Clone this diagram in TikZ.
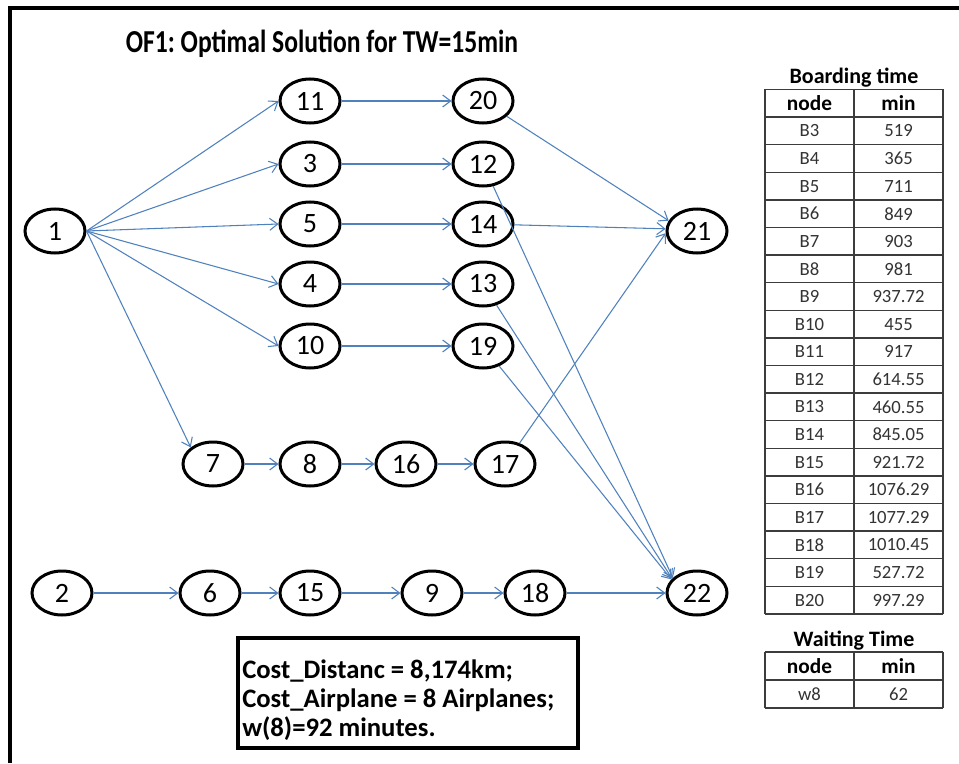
\documentclass[tikz,border=0pt]{standalone}
\usepackage{fontspec}
\setmainfont{Carlito}
\usetikzlibrary{shapes.geometric,arrows.meta}
\definecolor{edgeblue}{RGB}{79,129,189}
\definecolor{gridgray}{RGB}{60,60,60}
\frenchspacing
\begin{document}
\begin{tikzpicture}[x=0.75pt,y=-0.75pt,
  vnode/.style={ellipse,draw=black,line width=2.25pt,minimum width=45pt,minimum height=33pt,inner sep=0pt,font=\fontsize{21}{23}\selectfont},
  flow/.style={draw=edgeblue,line width=0.8pt,-{Straight Barb[length=6pt,width=9pt]}},
  cellt/.style={font=\fontsize{14}{16}\selectfont,text=black!80,inner sep=0pt},
  headt/.style={font=\bfseries\fontsize{16}{18}\selectfont,inner sep=0pt},
  ttlt/.style={font=\bfseries\fontsize{16.5}{18}\selectfont,inner sep=0pt},
  gridline/.style={draw=gridgray,line width=1pt},
  frameline/.style={draw=black,line width=3pt}
]
\useasboundingbox (0,0) rectangle (959,763);
% frame
\draw[frameline] (10,763) -- (10,8.5) -- (959,8.5);
% title
\node[font=\bfseries\fontsize{24}{28}\selectfont,inner sep=0pt,xscale=0.8] (title) at (322,44) {OF1: Optimal Solution for TW=15min};
% nodes
\node[vnode] (n1) at (55,231) {1};
\node[vnode] (n11) at (310,101) {11};
\node[vnode] (n3) at (310,164) {3};
\node[vnode] (n5) at (310,224) {5};
\node[vnode] (n4) at (310,284) {4};
\node[vnode] (n10) at (310,346) {10};
\node[vnode] (n20) at (483,101) {20};
\node[vnode] (n12) at (483,164) {12};
\node[vnode] (n14) at (483,224) {14};
\node[vnode] (n13) at (483,284) {13};
\node[vnode] (n19) at (483,346) {19};
\node[vnode] (n21) at (697,231) {21};
\node[vnode] (n7) at (213,464) {7};
\node[vnode] (n8) at (310,464) {8};
\node[vnode] (n16) at (406,464) {16};
\node[vnode] (n17) at (505,464) {17};
\node[vnode] (n2) at (62,593) {2};
\node[vnode] (n6) at (210,593) {6};
\node[vnode] (n15) at (310,593) {15};
\node[vnode] (n9) at (432,593) {9};
\node[vnode] (n18) at (535,593) {18};
\node[vnode] (n22) at (697,593) {22};
% edges from 1
\draw[flow] (n1.east) -- (n11.west);
\draw[flow] (n1.east) -- (n3.west);
\draw[flow] (n1.east) -- (n5.west);
\draw[flow] (n1.east) -- (n4.west);
\draw[flow] (n1.east) -- (n10.west);
\draw[flow] (n1.east) -- (n7.north west);
% middle
\draw[flow] (n11) -- (n20);
\draw[flow] (n3) -- (n12);
\draw[flow] (n5) -- (n14);
\draw[flow] (n4) -- (n13);
\draw[flow] (n10) -- (n19);
% to 21
\draw[flow] (n20) -- (n21.160);
\draw[flow] (n14) -- (n21.176);
\draw[flow] (n17) -- (n21.184);
% to 22
\draw[flow] (n12) -- (n22.148);
\draw[flow] (n13) -- (n22.150);
\draw[flow] (n19) -- (n22.152);
\draw[flow] (n18) -- (n22.west);
% chains
\draw[flow] (n7) -- (n8);
\draw[flow] (n8) -- (n16);
\draw[flow] (n16) -- (n17);
\draw[flow] (n2) -- (n6);
\draw[flow] (n6) -- (n15);
\draw[flow] (n15) -- (n9);
\draw[flow] (n9) -- (n18);
% boarding table
\node[ttlt] (btitle) at (854,78) {Boarding time};
\foreach \k in {0,...,19} {\draw[gridline] (765,{89.5+27.6*\k}) -- (943,{89.5+27.6*\k});}
\draw[gridline] (765,89.5) -- (765,{89.5+27.6*19});
\draw[gridline] (854,89.5) -- (854,{89.5+27.6*19});
\draw[gridline] (943,89.5) -- (943,{89.5+27.6*19});
\node[headt] (bhn) at (809.5,{89.5+13.8}) {node};
\node[headt] (bhm) at (898.5,{89.5+13.8}) {min};
\foreach \n/\v [count=\i] in {B3/519,B4/365,B5/711,B6/849,B7/903,B8/981,B9/937.72,B10/455,B11/917,B12/614.55,B13/460.55,B14/845.05,B15/921.72,B16/1076.29,B17/1077.29,B18/1010.45,B19/527.72,B20/997.29} {
  \node[cellt] (bn\i) at (809.5,{89.5+27.6*\i+13.8}) {\n};
  \node[cellt] (bv\i) at (898.5,{89.5+27.6*\i+13.8}) {\v};
}
% waiting table
\node[ttlt] (wtitle) at (854,641) {Waiting Time};
\foreach \yy in {652,680,708} {\draw[gridline] (765,\yy) -- (943,\yy);}
\draw[gridline] (765,652) -- (765,708);
\draw[gridline] (854,652) -- (854,708);
\draw[gridline] (943,652) -- (943,708);
\node[headt] (whn) at (809.5,666) {node};
\node[headt] (whm) at (898.5,666) {min};
\node[cellt] (wn) at (809.5,694) {w8};
\node[cellt] (wv) at (898.5,694) {62};
% cost box
\node[draw=black,line width=3pt,minimum width=255pt,minimum height=82.5pt,inner sep=0pt] (costbox) at (408,693) {};
\node[anchor=north west,inner sep=0pt,align=left,font=\bfseries\fontsize{20}{21.4}\selectfont] (costtext) at (242,660) {Cost\_Distanc = 8,174km;\\Cost\_Airplane = 8 Airplanes;\\w(8)=92 minutes.};
\end{tikzpicture}
\end{document}
